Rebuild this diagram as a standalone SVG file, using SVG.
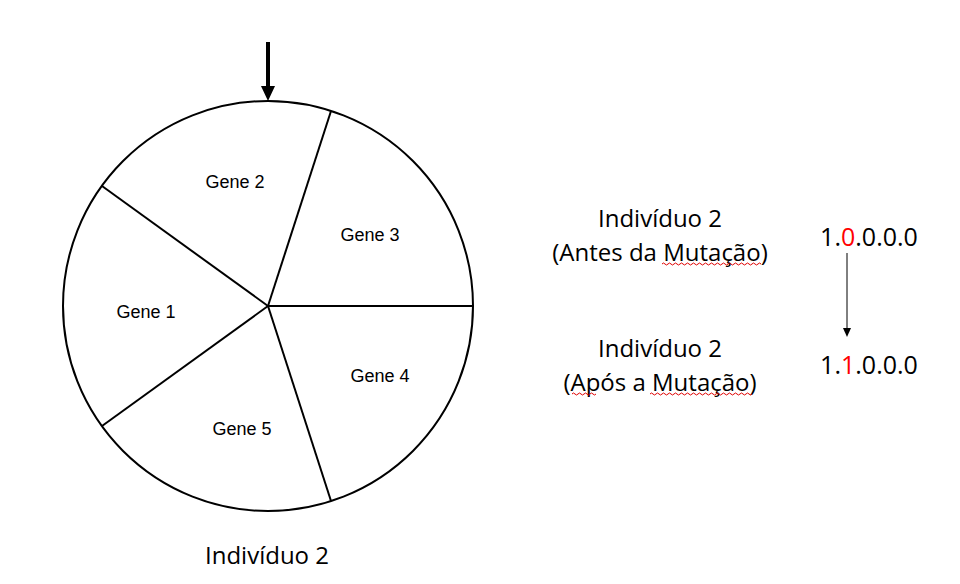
<svg xmlns="http://www.w3.org/2000/svg" width="960" height="584" viewBox="0 0 960 584">
<style>
.g{font-family:"Liberation Sans",Arial,sans-serif;font-size:18px;fill:#000;text-anchor:middle}
.t{font-family:"Open Sans","Noto Sans",sans-serif;font-size:24px;fill:#000;text-anchor:middle}
.c{font-family:"Open Sans","Noto Sans",sans-serif;font-size:25px;fill:#000;text-anchor:middle}
.red{fill:#ff0000}
.sq{fill:none;stroke:#e00000;stroke-width:1}
</style>
<rect width="960" height="584" fill="#fff"/>
<g id="wheel">
<circle cx="268" cy="306" r="205" fill="#fff" stroke="#000" stroke-width="2"/>
<g stroke="#000" stroke-width="2">
<line x1="268" y1="306" x2="473" y2="306"/>
<line x1="268" y1="306" x2="331" y2="111"/>
<line x1="268" y1="306" x2="102" y2="186"/>
<line x1="268" y1="306" x2="102" y2="426"/>
<line x1="268" y1="306" x2="331" y2="501"/>
</g>
</g>
<g id="gene1"><text class="g" x="146" y="318">Gene 1</text></g>
<g id="gene2"><text class="g" x="235" y="188">Gene 2</text></g>
<g id="gene3"><text class="g" x="370" y="241">Gene 3</text></g>
<g id="gene4"><text class="g" x="380" y="382">Gene 4</text></g>
<g id="gene5"><text class="g" x="242" y="435">Gene 5</text></g>
<g id="label-bottom"><text class="t" x="267" y="564">Indivíduo 2</text></g>
<g id="before"><text class="t" x="660" y="227">Indivíduo 2</text><text class="t" x="660" y="261">(Antes da Mutação)</text></g>
<g id="after"><text class="t" x="660" y="357">Indivíduo 2</text><text class="t" x="660" y="391">(Após a Mutação)</text></g>
<g id="code-before"><text class="c" x="869" y="246">1.<tspan class="red">0</tspan>.0.0.0</text></g>
<g id="code-after"><text class="c" x="869" y="374">1.<tspan class="red">1</tspan>.0.0.0</text></g>
<g id="connectors">
<line x1="268" y1="42" x2="268" y2="88" stroke="#000" stroke-width="4"/>
<path d="M261,86 L275,86 L268,101 Z" fill="#000"/>
<line x1="847" y1="253" x2="847" y2="328" stroke="#000" stroke-width="1"/>
<path d="M843,328 L851,328 L847,337 Z" fill="#000"/>
</g>
<g id="spellcheck">
<path class="sq" d="M662,264 q1.5,-2 3,0 t3,0 t3,0 t3,0 t3,0 t3,0 t3,0 t3,0 t3,0 t3,0 t3,0 t3,0 t3,0 t3,0 t3,0 t3,0 t3,0 t3,0 t3,0 t3,0 t3,0 t3,0 t3,0 t3,0 t3,0 t3,0 t3,0 t3,0 t3,0 t3,0 t3,0 t3,0 t3,0"/>
<path class="sq" d="M572,394 q1.5,-2 3,0 t3,0 t3,0 t3,0 t3,0 t3,0 t3,0 t3,0"/>
<path class="sq" d="M650,394 q1.5,-2 3,0 t3,0 t3,0 t3,0 t3,0 t3,0 t3,0 t3,0 t3,0 t3,0 t3,0 t3,0 t3,0 t3,0 t3,0 t3,0 t3,0 t3,0 t3,0 t3,0 t3,0 t3,0 t3,0 t3,0 t3,0 t3,0 t3,0 t3,0 t3,0 t3,0 t3,0 t3,0 t3,0 t3,0"/>
</g>
</svg>
